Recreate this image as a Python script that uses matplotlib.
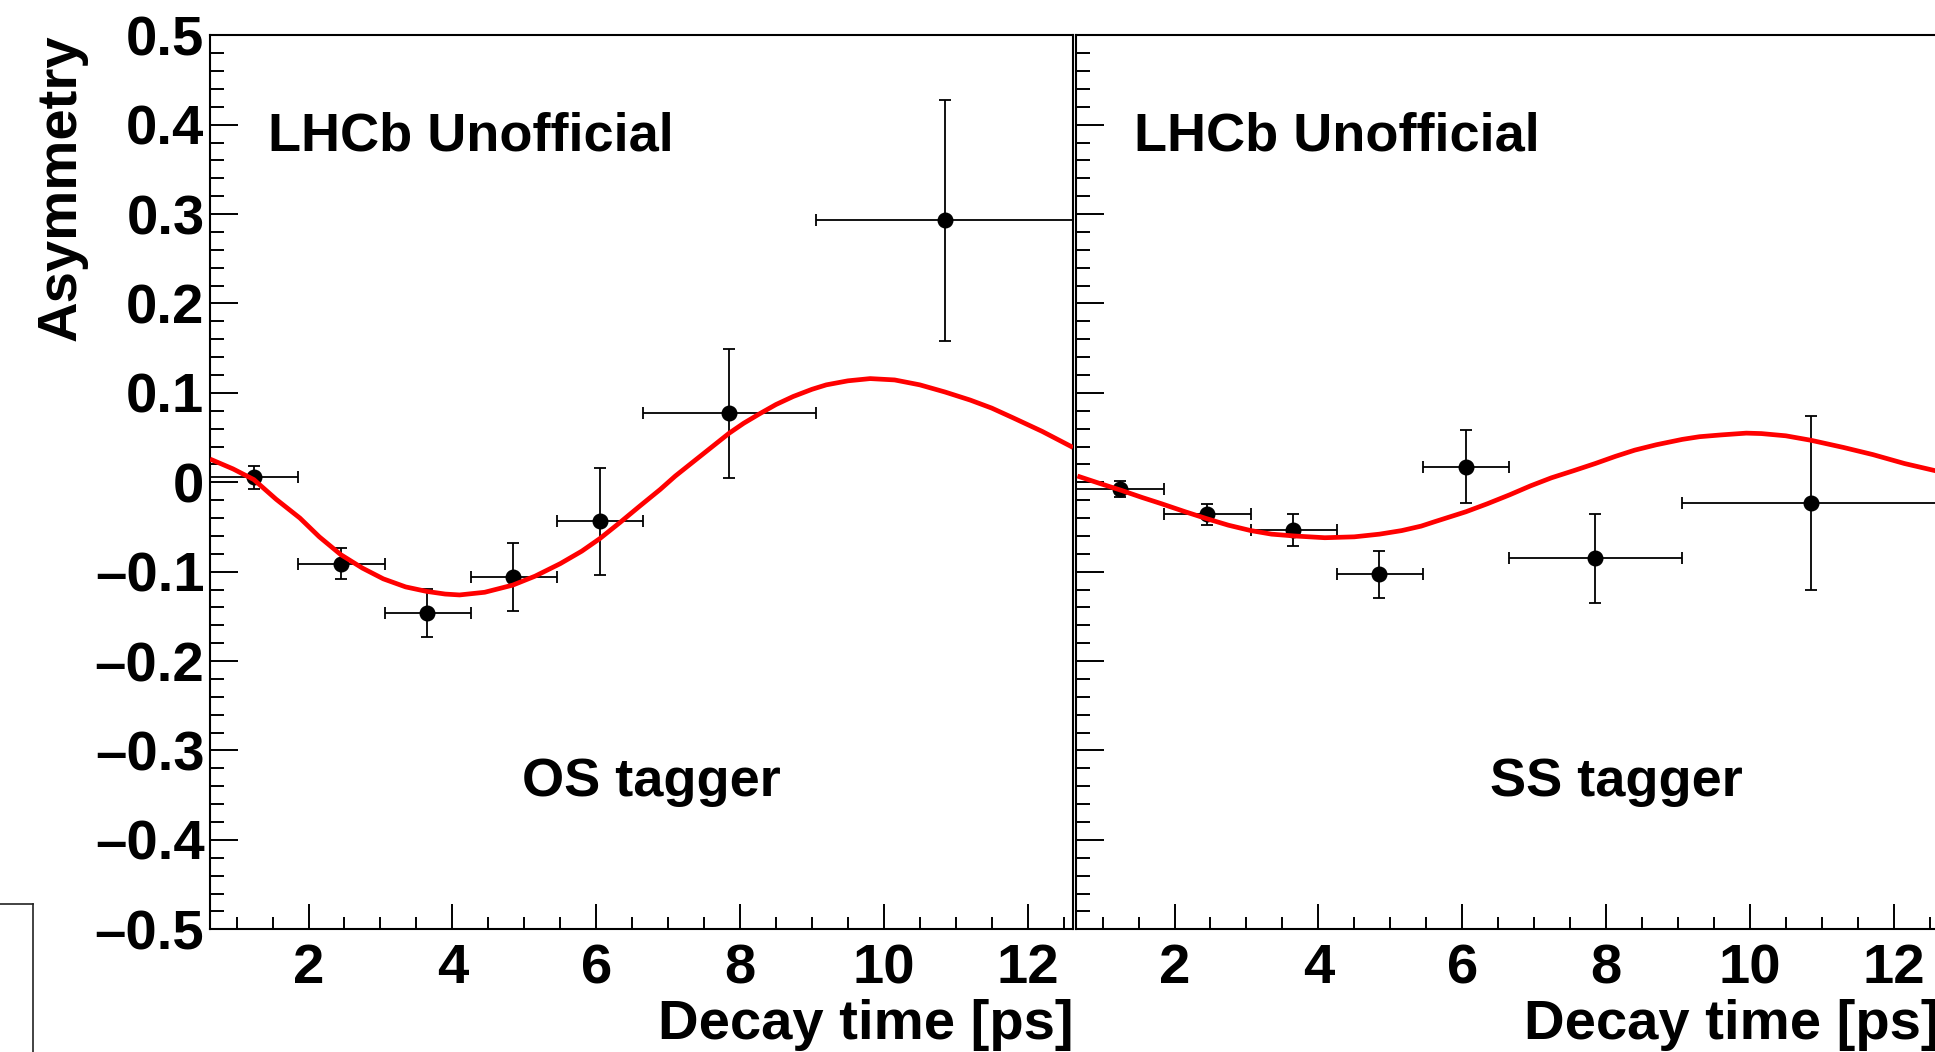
import numpy as np
import matplotlib
matplotlib.use('Agg')
import matplotlib.pyplot as plt
from matplotlib.ticker import MultipleLocator, FuncFormatter
from matplotlib.lines import Line2D

# decay time bins (ps), shared by both taggers
bin_edges = [0.63, 1.857, 3.057, 4.258, 5.46, 6.65, 9.052, 12.63]
bin_centers = [1.243, 2.445, 3.645, 4.845, 6.05, 7.848, 10.85]

# OS tagger asymmetry
os_asym = [0.0056, -0.091, -0.146, -0.1056, -0.0437, 0.0772, 0.293]
os_err = [0.0127, 0.0173, 0.0265, 0.038, 0.060, 0.072, 0.1346]

# SS tagger asymmetry
ss_asym = [-0.0075, -0.0358, -0.0534, -0.1029, 0.0175, -0.085, -0.0232]
ss_err = [0.0091, 0.0117, 0.0177, 0.0265, 0.0405, 0.050, 0.0975]

# fit curves
os_fit_t = [0.63, 0.95, 1.24, 1.55, 1.88, 2.15, 2.45, 2.75, 3.04, 3.35, 3.64,
            3.90, 4.10, 4.45, 4.84, 5.15, 5.50, 5.80, 6.05, 6.33, 6.60, 6.89,
            7.10, 7.35, 7.60, 7.85, 8.05, 8.28, 8.50, 8.74, 9.00, 9.20, 9.50,
            9.81, 10.15, 10.50, 10.85, 11.20, 11.50, 11.80, 12.20, 12.63]
os_fit_a = [0.026, 0.015, 0.003, -0.019, -0.040, -0.061, -0.081, -0.096,
            -0.108, -0.117, -0.122, -0.125, -0.126, -0.123, -0.115, -0.105,
            -0.091, -0.077, -0.063, -0.045, -0.027, -0.008, 0.007, 0.023,
            0.039, 0.055, 0.066, 0.077, 0.087, 0.096, 0.104, 0.109, 0.1135,
            0.116, 0.1145, 0.109, 0.101, 0.092, 0.083, 0.072, 0.057, 0.039]
ss_fit_t = [0.65, 0.95, 1.26, 1.55, 1.82, 2.15, 2.46, 2.75, 3.06, 3.35, 3.66,
            4.09, 4.50, 4.85, 5.16, 5.43, 5.62, 6.05, 6.35, 6.66, 6.95, 7.24,
            7.55, 7.85, 8.13, 8.40, 8.70, 9.06, 9.30, 9.60, 9.95, 10.16, 10.50,
            10.85, 11.30, 11.71, 12.15, 12.63]
ss_fit_a = [0.007, -0.001, -0.009, -0.017, -0.024, -0.033, -0.041, -0.048,
            -0.054, -0.058, -0.060, -0.062, -0.061, -0.058, -0.054, -0.049,
            -0.044, -0.033, -0.024, -0.014, -0.004, 0.005, 0.013, 0.021, 0.029,
            0.036, 0.042, 0.048, 0.051, 0.053, 0.055, 0.0545, 0.052, 0.047,
            0.039, 0.031, 0.021, 0.012]

W, H = 1935, 1052
FS = 39
FS_AX = 40.5
plt.rcParams['font.family'] = ['Liberation Sans', 'DejaVu Sans']
plt.rcParams['font.weight'] = 'bold'

fig = plt.figure(figsize=(W / 100, H / 100), dpi=100)

# frame geometry in pixels
ax_w = 863
ax_bottom = 1 - 929.3 / H
ax_h = 894 / H
ax1 = fig.add_axes([210 / W, ax_bottom, ax_w / W, ax_h])
ax2 = fig.add_axes([1076 / W, ax_bottom, ax_w / W, ax_h])

edges = np.array(bin_edges)
centers = np.array(bin_centers)
xerr = [centers - edges[:-1], edges[1:] - centers]


def yfmt(v, pos):
    if abs(v) < 1e-9:
        return '0'
    return f'{v:.1f}'.replace('-', '\u2013')


for ax, asym, err, ft, fa, tag, tag_x in [
        (ax1, os_asym, os_err, os_fit_t, os_fit_a, 'OS tagger', 0.511),
        (ax2, ss_asym, ss_err, ss_fit_t, ss_fit_a, 'SS tagger', 0.626)]:
    ax.errorbar(centers, asym, xerr=xerr, yerr=err, fmt='o', color='black',
                markersize=10.5, elinewidth=1.3, capsize=4, capthick=1.3,
                zorder=3)
    ax.plot(ft, fa, color='#ff0000', linewidth=3.4, zorder=4,
            solid_joinstyle='round', solid_capstyle='butt')

    ax.set_xlim(bin_edges[0], bin_edges[-1])
    ax.set_ylim(-0.5, 0.5)
    ax.xaxis.set_major_locator(MultipleLocator(2))
    ax.xaxis.set_minor_locator(MultipleLocator(0.5))
    ax.yaxis.set_major_locator(MultipleLocator(0.1))
    ax.yaxis.set_minor_locator(MultipleLocator(0.02))
    ax.yaxis.set_major_formatter(FuncFormatter(yfmt))

    ax.tick_params(axis='both', which='both', direction='in', width=1.4,
                   top=False, right=False, labelsize=FS_AX)
    ax.tick_params(axis='x', which='major', length=18, pad=10)
    ax.tick_params(axis='x', which='minor', length=9)
    ax.tick_params(axis='y', which='major', length=20.5, pad=4)
    ax.tick_params(axis='y', which='minor', length=10)
    for s in ax.spines.values():
        s.set_linewidth(1.5)

    ax.text(0.0672, 0.8706, 'LHCb Unofficial', transform=ax.transAxes,
            fontsize=FS, fontweight='bold', ha='left', va='baseline')
    ax.text(tag_x, 0.149, tag, transform=ax.transAxes,
            fontsize=FS, fontweight='bold', ha='center', va='baseline')

ax2.tick_params(axis='y', labelleft=False)

# axis titles
fig.text(76 / W, 1 - 34 / H, 'Asymmetry', rotation=90, rotation_mode='anchor',
         ha='right', va='baseline', fontsize=FS_AX, fontweight='bold')
fig.text(1073 / W, 1 - 1038.7 / H, 'Decay time [ps]', ha='right',
         va='baseline', fontsize=FS_AX, fontweight='bold')
fig.text(1939 / W, 1 - 1038.7 / H, 'Decay time [ps]', ha='right',
         va='baseline', fontsize=FS_AX, fontweight='bold')

# stray pad border in the lower left corner
fig.add_artist(Line2D([0, 32.7 / W], [1 - 904.3 / H, 1 - 904.3 / H],
                      transform=fig.transFigure, color='#222222', lw=1.2))
fig.add_artist(Line2D([32.7 / W, 32.7 / W], [1 - 904.3 / H, 0],
                      transform=fig.transFigure, color='#222222', lw=1.2))

fig.savefig('out.png', dpi=100)
